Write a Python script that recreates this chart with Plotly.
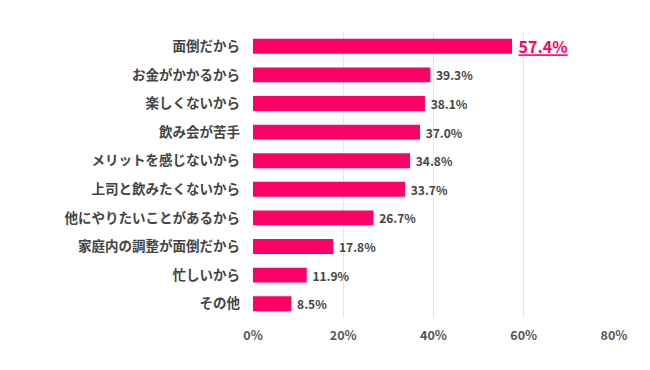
import plotly.graph_objects as go

categories = ["面倒だから", "お金がかかるから", "楽しくないから", "飲み会が苦手", "メリットを感じないから",
              "上司と飲みたくないから", "他にやりたいことがあるから", "家庭内の調整が面倒だから", "忙しいから", "その他"]
values = [57.4, 39.3, 38.1, 37.0, 34.8, 33.7, 26.7, 17.8, 11.9, 8.5]
tick_vals = [0, 20, 40, 60, 80]
tick_text = ["0%", "20%", "40%", "60%", "80%"]

FONT = "Noto Sans CJK JP"
PINK = "#FF0066"

texts = []
for i, v in enumerate(values):
    if i == 0:
        texts.append(f" <b><u>{v:.1f}%</u></b>")
    else:
        texts.append(f" <b>{v:.1f}%</b>")

fig = go.Figure(go.Bar(
    x=values, y=categories, orientation="h",
    marker=dict(color=PINK, line=dict(width=0)),
    width=0.52,
    text=texts, textposition="outside", cliponaxis=False, constraintext="none",
    outsidetextfont=dict(family=FONT,
                         size=[16] + [12] * (len(values) - 1),
                         color=[PINK] + ["#444444"] * (len(values) - 1)),
))

fig.update_layout(
    width=650, height=370,
    margin=dict(l=245, r=44, t=24, b=60),
    plot_bgcolor="white", paper_bgcolor="white",
    showlegend=False,
    font=dict(family=FONT, color="#444444"),
    xaxis=dict(range=[0, 80], tickvals=tick_vals, ticktext=tick_text, automargin=False,
               showgrid=True, gridcolor="#E6E6E6", gridwidth=1, zeroline=False, ticklabelstandoff=8,
               tickfont=dict(family=FONT, size=12.5, color="#555555", weight="bold"), fixedrange=True),
    yaxis=dict(autorange="reversed", showgrid=False, ticks="", ticklabelstandoff=12, automargin=False,
               tickfont=dict(family=FONT, size=13.5, color="#444444", weight="bold")),
)
fig.write_html("out.html")
